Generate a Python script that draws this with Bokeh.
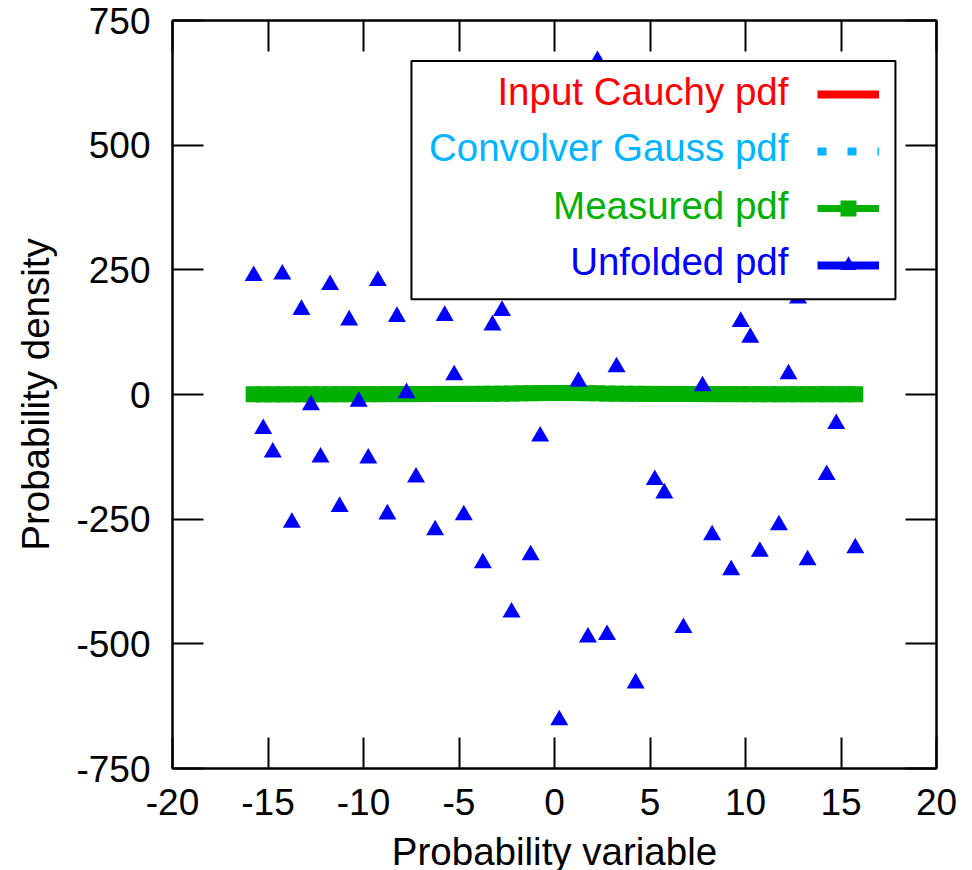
from bokeh.plotting import figure
from bokeh.models import (Range1d, FixedTicker, LinearAxis, Legend, LegendItem,
                          BoxAnnotation, Label)
from bokeh.core.properties import value
from bokeh.embed import file_html
from bokeh.resources import INLINE

# ---------------- data ----------------
x_bins = [-15.75, -15.25, -14.75, -14.25, -13.75, -13.25, -12.75, -12.25,
          -11.75, -11.25, -10.75, -10.25, -9.75, -9.25, -8.75, -8.25,
          -7.75, -7.25, -6.75, -6.25, -5.75, -5.25, -4.75, -4.25,
          -3.75, -3.25, -2.75, -2.25, -1.75, -1.25, -0.75, -0.25,
          0.25, 0.75, 1.25, 1.75, 2.25, 2.75, 3.25, 3.75,
          4.25, 4.75, 5.25, 5.75, 6.25, 6.75, 7.25, 7.75,
          8.25, 8.75, 9.25, 9.75, 10.25, 10.75, 11.25, 11.75,
          12.25, 12.75, 13.25, 13.75, 14.25, 14.75, 15.25, 15.75]

unfolded_pdf = [238, -69, -116, 241, -257, 170, -21, -126,
                220, -225, 149, -14, -128, 228, -240, 156,
                3, -166, 420, -272, 158, 39, -242, 380,
                -338, 139, 168, -437, 520, -322, -84, 450,
                -653, 560, 26, -487, 669, -482, 55, 350,
                -579, 470, -171, -198, 400, -468, 540, 17,
                -282, 300, -352, 146, 114, -315, 430, -262,
                41, 193, -332, 360, -161, -59, 480, -308]

measured_pdf = [0.3, 0.3, 0.3, 0.3, 0.4, 0.4, 0.4, 0.4,
                0.5, 0.5, 0.5, 0.6, 0.6, 0.6, 0.7, 0.7,
                0.8, 0.8, 0.9, 1.0, 1.0, 1.1, 1.2, 1.3,
                1.4, 1.5, 1.6, 1.8, 2.4, 2.6, 2.8, 3.0,
                3.1, 3.0, 2.8, 2.6, 2.4, 1.8, 1.6, 1.5,
                1.4, 1.3, 1.2, 1.1, 1.0, 1.0, 0.9, 0.8,
                0.8, 0.7, 0.7, 0.6, 0.6, 0.6, 0.5, 0.5,
                0.5, 0.4, 0.4, 0.4, 0.4, 0.3, 0.3, 0.3]

curve_x = [-15.75, -12.0, -9.0, -6.0, -4.0, -3.0, -2.0, -1.0, -0.5, 0.0,
           0.5, 1.0, 2.0, 3.0, 4.0, 6.0, 9.0, 12.0, 15.75]
cauchy_pdf = [0.001, 0.002, 0.004, 0.009, 0.019, 0.032, 0.064, 0.159, 0.255, 0.318,
              0.255, 0.159, 0.064, 0.032, 0.019, 0.009, 0.004, 0.002, 0.001]
gauss_pdf = [0.0, 0.0, 0.0, 0.0, 0.0001, 0.004, 0.054, 0.242, 0.352, 0.399,
             0.352, 0.242, 0.054, 0.004, 0.0001, 0.0, 0.0, 0.0, 0.0]

x_ticks = [-20, -15, -10, -5, 0, 5, 10, 15, 20]
x_tick_labels = ["-20", "-15", "-10", "-5", "0", "5", "10", "15", "20"]
y_ticks = [-750, -500, -250, 0, 250, 500, 750]
y_tick_labels = ["-750", "-500", "-250", "0", "250", "500", "750"]

legend_labels = ["Input Cauchy pdf", "Convolver Gauss pdf", "Measured pdf", "Unfolded pdf"]

RED = "#ff0000"
CYAN = "#00b4ff"
GREEN = "#00b000"
BLUE = "#0000ff"
FONT = "Liberation Sans"
TICK_FS = "37px"
FS = "38.5px"

# ---------------- figure ----------------
p = figure(frame_width=764, frame_height=748,
           x_range=Range1d(-20, 20), y_range=Range1d(-750, 750),
           output_backend="svg", toolbar_location=None,
           min_border_left=172, min_border_top=20, min_border_right=36,
           min_border_bottom=10,
           x_axis_label="Probability variable", y_axis_label="Probability density")
p.outline_line_color = "black"
p.outline_line_width = 2
p.xgrid.visible = False
p.ygrid.visible = False


def style_axis(ax, ticks, tick_labels=None):
    ax.ticker = FixedTicker(ticks=ticks)
    ax.major_tick_in = 31
    ax.major_tick_out = 0
    ax.minor_tick_in = 0
    ax.minor_tick_out = 0
    ax.major_tick_line_width = 2
    ax.major_tick_line_color = "black"
    ax.axis_line_width = 2
    ax.axis_line_color = "black"
    ax.major_label_text_font = FONT
    ax.major_label_text_color = "black"
    ax.axis_label_text_font = FONT
    ax.axis_label_text_font_size = FS
    ax.axis_label_text_font_style = "normal"
    ax.axis_label_text_color = "black"
    if tick_labels is not None:
        ax.major_label_overrides = dict(zip(ticks, tick_labels))
        ax.major_label_text_font_size = TICK_FS
    else:
        ax.major_label_overrides = {t: "" for t in ticks}
        ax.major_label_text_font_size = "1px"
        ax.major_label_standoff = 0


xa = p.xaxis[0]
ya = p.yaxis[0]
style_axis(xa, x_ticks, x_tick_labels)
style_axis(ya, y_ticks, y_tick_labels)
xa.major_label_standoff = 20
xa.axis_label_standoff = 12
ya.major_label_standoff = 22
ya.axis_label_standoff = 16

top_ax = LinearAxis()
style_axis(top_ax, x_ticks)
p.add_layout(top_ax, "above")
right_ax = LinearAxis()
style_axis(right_ax, y_ticks)
p.add_layout(right_ax, "right")

# ---------------- series ----------------
r_cauchy = p.line(curve_x, cauchy_pdf, line_color=RED, line_width=8)
r_gauss = p.line(curve_x, gauss_pdf, line_color=CYAN, line_width=8, line_dash="9 21")
r_meas_line = p.line(x_bins, measured_pdf, line_color=GREEN, line_width=7)
r_meas_pts = p.scatter(x_bins, measured_pdf, marker="square", size=16,
                       fill_color=GREEN, line_color=None)
# key sample only (error-bar style entry): no visible segment in the plot
r_unf_line = p.line(x=[x_bins[0]], y=[float("nan")], line_color=BLUE, line_width=8)
r_unf_pts = p.scatter(x_bins, unfolded_pdf, marker="triangle", size=18,
                      fill_color=BLUE, line_color=None)

# ---------------- key (gnuplot style: text right-aligned, sample on the right) ----
box = BoxAnnotation(left=-7.49, right=17.85, top=668.6, bottom=191.2,
                    fill_color="white", fill_alpha=1.0,
                    line_color="black", line_width=2, line_alpha=1.0)
p.add_layout(box)

legend = Legend(items=[
    LegendItem(label=value(""), renderers=[r_cauchy]),
    LegendItem(label=value(""), renderers=[r_gauss]),
    LegendItem(label=value(""), renderers=[r_meas_line, r_meas_pts]),
    LegendItem(label=value(""), renderers=[r_unf_line, r_unf_pts]),
], location=(645, 483), padding=0, spacing=17, glyph_width=62, glyph_height=40,
    label_standoff=0, label_width=0, label_height=0, margin=0,
    border_line_color=None, background_fill_alpha=0)
p.add_layout(legend, "center")

label_colors = [RED, CYAN, GREEN, BLUE]
label_y = [608.4, 495.1, 378.7, 267.4]
for txt, col, ly in zip(legend_labels, label_colors, label_y):
    p.add_layout(Label(x=12.25, y=ly, text=txt, text_align="right",
                       text_baseline="middle", text_font=FONT,
                       text_font_size=FS, text_color=col))

open("out.html", "w").write(file_html(p, INLINE))
